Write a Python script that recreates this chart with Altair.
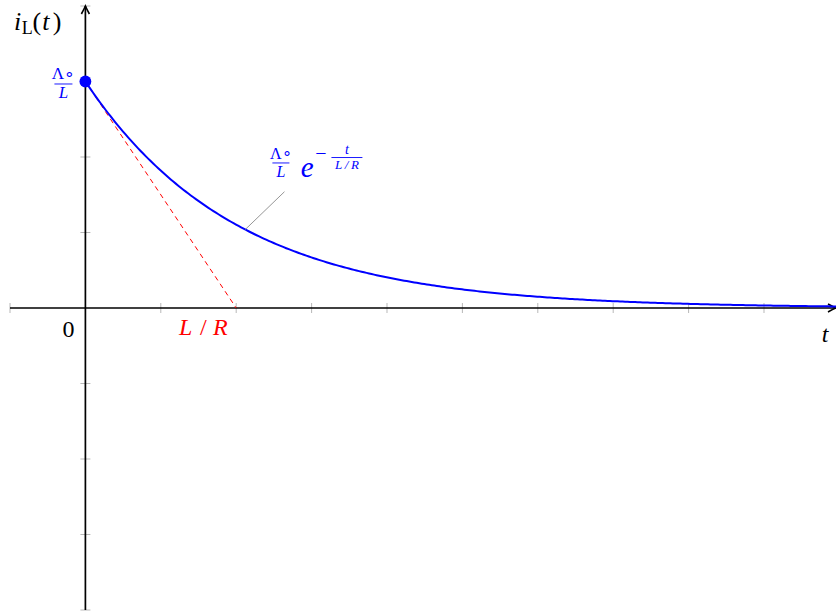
import altair as alt
import numpy as np
import pandas as pd

# Axis ranges (data units)
X_MIN, X_MAX = -1.0, 9.955
Y_MIN, Y_MAX = -4.0, 4.0

# Circuit parameters: initial current Lambda0/L and time constant L/R
I0 = 3.0
TAU = 2.0

x_ticks = [-1, 1, 2, 3, 4, 5, 6, 7, 8, 9]
y_ticks = [-4, -3, -2, -1, 1, 2, 3, 4]

BLUE = "#0000ff"
RED = "#ff0000"
FONT = "Liberation Serif"

xs = alt.Scale(domain=[X_MIN, X_MAX], nice=False, zero=False)
ys = alt.Scale(domain=[Y_MIN, Y_MAX], nice=False, zero=False)


def X(field="x"):
    return alt.X(f"{field}:Q", scale=xs, axis=None)


def Y(field="y"):
    return alt.Y(f"{field}:Q", scale=ys, axis=None)


# decay curve i_L(t) = (Lambda0/L) e^{-t/(L/R)}
t_vals = np.linspace(0.0, X_MAX, 300)
curve = pd.DataFrame({"x": t_vals, "y": I0 * np.exp(-t_vals / TAU)})

# tangent at t = 0, reaching zero at t = L/R
tangent = pd.DataFrame({"x": [0.0, TAU], "y": [I0, 0.0]})

layers = []

# tick marks
xt = pd.DataFrame({"x": x_ticks, "y": [0] * len(x_ticks)})
yt = pd.DataFrame({"x": [0] * len(y_ticks), "y": y_ticks})
layers.append(alt.Chart(xt).mark_tick(orient="vertical", size=10, thickness=1, color="#9a9a9a")
              .encode(x=X(), y=Y()))
layers.append(alt.Chart(yt).mark_tick(orient="horizontal", size=10, thickness=1, color="#9a9a9a")
              .encode(x=X(), y=Y()))

# axis lines
axes = pd.DataFrame({"x": [X_MIN, 0.0], "x2": [X_MAX, 0.0],
                     "y": [0.0, Y_MIN], "y2": [0.0, Y_MAX]})
layers.append(alt.Chart(axes).mark_rule(color="black", strokeWidth=1.7)
              .encode(x=X(), x2="x2:Q", y=Y(), y2="y2:Q"))

# arrow heads
ARROW_RIGHT = "M -1 -0.5 Q -0.35 -0.15 0 0 Q -0.35 0.15 -1 0.5"
ARROW_UP = "M -0.5 1 Q -0.15 0.35 0 0 Q 0.15 0.35 0.5 1"
for ax, ay, shp in [(X_MAX, 0.0, ARROW_RIGHT), (0.0, Y_MAX, ARROW_UP)]:
    layers.append(alt.Chart(pd.DataFrame({"x": [ax], "y": [ay]}))
                  .mark_point(shape=shp, size=256, filled=False, stroke="black",
                              strokeWidth=1.6, opacity=1)
                  .encode(x=X(), y=Y()))

# tangent line
layers.append(alt.Chart(tangent).mark_line(color=RED, strokeWidth=1, strokeDash=[5, 4])
              .encode(x=X(), y=Y()))

# decay curve
layers.append(alt.Chart(curve).mark_line(color=BLUE, strokeWidth=2)
              .encode(x=X(), y=Y()))

# initial value marker
layers.append(alt.Chart(pd.DataFrame({"x": [0.0], "y": [I0]}))
              .mark_circle(color=BLUE, size=140, opacity=1)
              .encode(x=X(), y=Y()))

# pointer from curve to its formula label
p_t0, p_t1, p_v1 = 2.12, 2.64, 1.54
pointer = pd.DataFrame({"x": [p_t0], "y": [I0 * np.exp(-p_t0 / TAU)],
                        "x2": [p_t1], "y2": [p_v1]})
layers.append(alt.Chart(pointer).mark_rule(color="#8a8a8a", strokeWidth=0.9)
              .encode(x=X(), y=Y(), x2="x2:Q", y2="y2:Q"))

# fractions: (numerator, denominator, bar from, bar to, bar height, num size, den size)
fractions = [
    ("Λ∘", "L", -0.411, -0.172, 2.967, 17, 17),
    ("Λ∘", "L", 2.48, 2.706, 1.921, 16, 16),
    ("t", "L\u2009/\u2009R", 3.263, 3.674, 1.993, 14, 13),
]
bars = pd.DataFrame({"x": [f[2] for f in fractions], "x2": [f[3] for f in fractions],
                     "y": [f[4] for f in fractions], "y2": [f[4] for f in fractions]})
layers.append(alt.Chart(bars).mark_rule(color=BLUE, strokeWidth=0.9)
              .encode(x=X(), x2="x2:Q", y=Y(), y2="y2:Q"))

for num, den, b0, b1, by, ns, ds in fractions:
    cx = (b0 + b1) / 2
    layers.append(alt.Chart(pd.DataFrame({"x": [cx], "y": [by], "t": [num]}))
                  .mark_text(font=FONT, fontSize=ns, color=BLUE, align="center",
                             baseline="bottom", dy=-1,
                             fontStyle="normal" if num.startswith("Λ") else "italic")
                  .encode(x=X(), y=Y(), text="t:N"))
    layers.append(alt.Chart(pd.DataFrame({"x": [cx], "y": [by], "t": [den]}))
                  .mark_text(font=FONT, fontSize=ds, color=BLUE, align="center",
                             baseline="top", dy=1, fontStyle="italic")
                  .encode(x=X(), y=Y(), text="t:N"))

# other text pieces: (text, x, y, size, italic, color)
labels = [
    # i_L(t)
    ("i", -0.9, 3.68, 26, True, "black"),
    ("L", -0.77, 3.63, 18, False, "black"),
    ("(", -0.645, 3.68, 26, False, "black"),
    ("t", -0.525, 3.68, 26, True, "black"),
    (")", -0.375, 3.68, 26, False, "black"),
    # origin and time constant
    ("0", -0.225, -0.39, 24, False, "black"),
    ("L", 1.33, -0.36, 24, True, RED),
    ("/", 1.565, -0.36, 24, False, RED),
    ("R", 1.79, -0.36, 24, True, RED),
    # t axis label
    ("t", 9.81, -0.45, 24, True, "black"),
    # exponential factor of the formula
    ("e", 2.94, 1.735, 29, True, BLUE),
    ("−", 3.123, 1.965, 20, False, BLUE),
]

for txt, lx, ly, fs, it, col in labels:
    layers.append(alt.Chart(pd.DataFrame({"x": [lx], "y": [ly], "t": [txt]}))
                  .mark_text(font=FONT, fontSize=fs, fontStyle="italic" if it else "normal",
                             color=col, align="center", baseline="alphabetic")
                  .encode(x=X(), y=Y(), text="t:N"))

chart = (alt.layer(*layers)
         .properties(width=826, height=604,
                     autosize=alt.AutoSizeParams(type="none"),
                     padding={"left": 10, "top": 6, "right": 0, "bottom": 3})
         .configure_view(stroke=None))

chart.save("out.html", embed_options={"renderer": "svg", "actions": False})
